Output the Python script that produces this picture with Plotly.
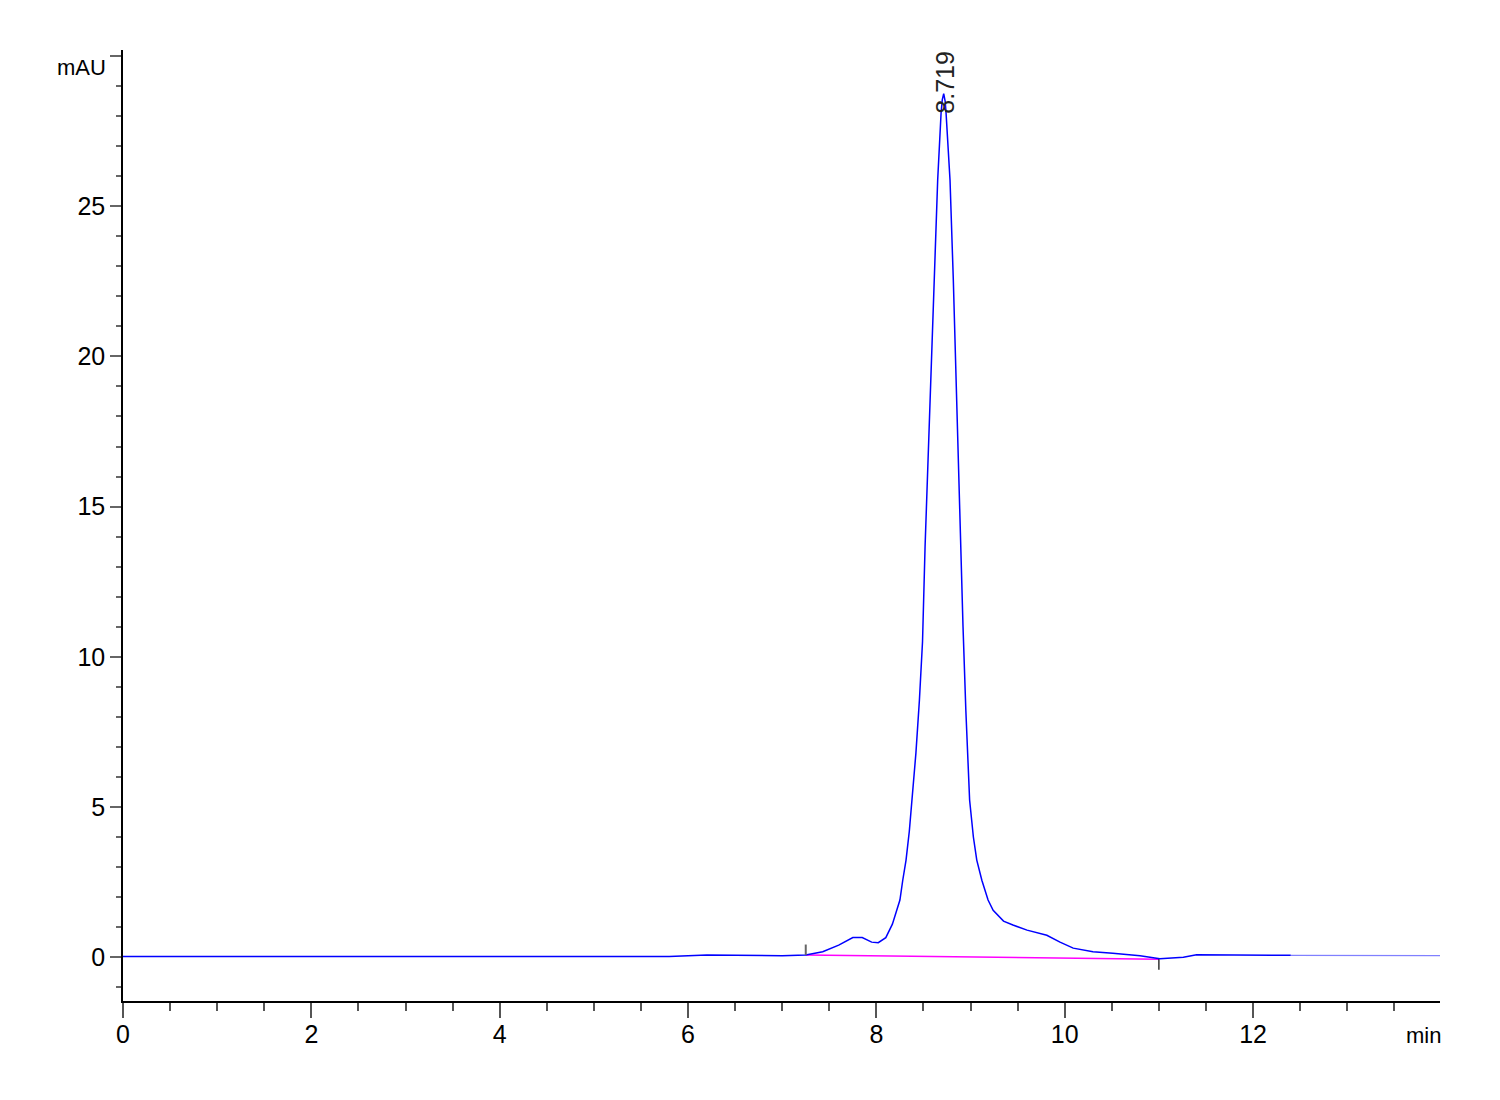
import plotly.graph_objects as go

# Chromatogram data (time in min, signal in mAU)
time_min = [0.0, 0.5, 1.0, 1.5, 2.0, 2.5, 3.0, 4.0, 5.0, 5.8, 6.2, 6.6, 7.0, 7.25,
            7.43, 7.6, 7.75, 7.85, 7.95, 8.02, 8.1, 8.17, 8.22, 8.25, 8.28, 8.315,
            8.35, 8.38, 8.42, 8.457, 8.49, 8.517, 8.55, 8.58, 8.615, 8.651, 8.687,
            8.70, 8.715, 8.73, 8.74, 8.782, 8.817, 8.846, 8.87, 8.896, 8.92, 8.95,
            8.99, 9.03, 9.066, 9.12, 9.186, 9.24, 9.35, 9.45, 9.6, 9.81, 9.95,
            10.09, 10.3, 10.51, 10.8, 11.01, 11.26, 11.4, 12.0, 12.4, 13.0, 14.0]
signal_mau = [0.02, 0.02, 0.01, 0.01, 0.0, 0.01, 0.0, 0.0, 0.0, 0.02, 0.07, 0.05, 0.05, 0.07,
              0.18, 0.4, 0.65, 0.65, 0.5, 0.48, 0.65, 1.1, 1.56, 1.9, 2.56, 3.23,
              4.2, 5.23, 6.8, 8.56, 10.5, 13.66, 16.5, 19.21, 22.54, 25.87, 28.1,
              28.55, 28.75, 28.5, 28.1, 25.87, 22.54, 19.21, 16.5, 13.66, 11.0, 8.22,
              5.23, 4.0, 3.23, 2.56, 1.9, 1.56, 1.2, 1.07, 0.9, 0.73, 0.5,
              0.30, 0.18, 0.13, 0.05, -0.05, 0.0, 0.08, 0.07, 0.06, 0.05, 0.05]
tail_start = 12.4

# Integration baseline
baseline_time = [7.25, 11.0]
baseline_value = [0.07, -0.07]

# Peak label
peak_time = 8.719
peak_height = 28.75
peak_label = "8.719"

# Axis ticks
y_tickvals = [0, 5, 10, 15, 20, 25, 30]
y_ticktext = ["0", "5", "10", "15", "20", "25", ""]
x_tickvals = [0, 2, 4, 6, 8, 10, 12]
x_ticktext = ["0", "2", "4", "6", "8", "10", "12"]

FONT = "Liberation Sans, Arial, sans-serif"

fig = go.Figure()

main_x = [t for t in time_min if t <= tail_start]
main_y = [s for t, s in zip(time_min, signal_mau) if t <= tail_start]
tail_x = [t for t in time_min if t >= tail_start]
tail_y = [s for t, s in zip(time_min, signal_mau) if t >= tail_start]

fig.add_trace(go.Scatter(x=tail_x, y=tail_y, mode="lines",
                         line=dict(color="#8080ff", width=1.2), hoverinfo="skip"))
fig.add_trace(go.Scatter(x=baseline_time, y=baseline_value, mode="lines",
                         line=dict(color="#ff00ff", width=1.6), hoverinfo="skip"))
fig.add_trace(go.Scatter(x=main_x, y=main_y, mode="lines",
                         line=dict(color="#0000ff", width=1.5), hoverinfo="skip"))

# baseline start / end markers
tick_len = 0.35
fig.add_trace(go.Scatter(x=[baseline_time[0], baseline_time[0]],
                         y=[baseline_value[0], baseline_value[0] + tick_len],
                         mode="lines", line=dict(color="#666666", width=2), hoverinfo="skip"))
fig.add_trace(go.Scatter(x=[baseline_time[1], baseline_time[1]],
                         y=[baseline_value[1], baseline_value[1] - tick_len],
                         mode="lines", line=dict(color="#000000", width=1.2), hoverinfo="skip"))

fig.add_annotation(x=peak_time, y=peak_height, xref="x", yref="y",
                   text=peak_label, showarrow=False, textangle=-90,
                   xanchor="center", yanchor="middle", yshift=11,
                   font=dict(family=FONT, size=25, color="#222222"))

fig.add_annotation(xref="paper", yref="paper", x=-0.0115, y=0.982, text="mAU",
                   showarrow=False, xanchor="right", yanchor="middle",
                   font=dict(family=FONT, size=22, color="#000000"))
fig.add_annotation(xref="paper", yref="paper", x=1.002, y=-0.0358, text="min",
                   showarrow=False, xanchor="right", yanchor="middle",
                   font=dict(family=FONT, size=22, color="#000000"))

# page body has an 8px default margin, compensated in the margins below
fig.update_layout(
    width=1500, height=1100,
    margin=dict(l=115, r=68, t=42, b=107),
    paper_bgcolor="white", plot_bgcolor="white",
    showlegend=False,
    font=dict(family=FONT, size=24, color="#000000"),
    xaxis=dict(range=[0, 13.985], showgrid=False, zeroline=False,
               showline=True, linecolor="#000000", linewidth=1.5,
               tickmode="array", tickvals=x_tickvals, ticktext=x_ticktext,
               ticks="outside", ticklen=15, tickwidth=1.5, tickcolor="#555555",
               ticklabelstandoff=-5,
               minor=dict(dtick=0.5, ticks="outside", ticklen=8, tickwidth=1.5, tickcolor="#555555",
                          showgrid=False),
               tickfont=dict(family=FONT, size=25, color="#000000")),
    yaxis=dict(range=[-1.46, 30.2], showgrid=False, zeroline=False,
               showline=True, linecolor="#000000", linewidth=1.5,
               tickmode="array", tickvals=y_tickvals, ticktext=y_ticktext,
               ticks="outside", ticklen=11, tickwidth=1.5, tickcolor="#666666",
               minor=dict(dtick=1, ticks="outside", ticklen=5, tickwidth=1.5, tickcolor="#666666",
                          showgrid=False),
               tickfont=dict(family=FONT, size=25, color="#000000")),
)

fig.write_html("out.html")
